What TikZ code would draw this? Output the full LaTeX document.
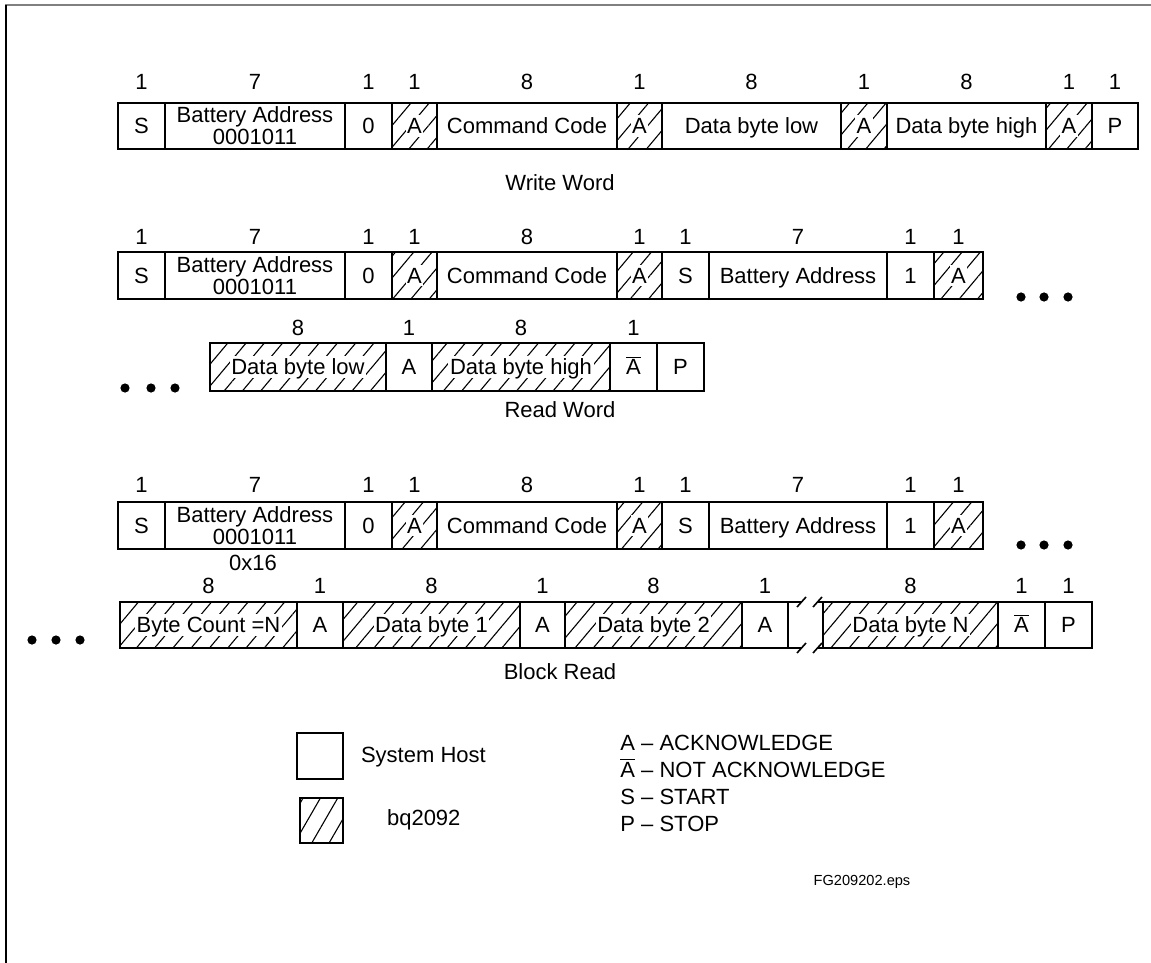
\documentclass[tikz,border=0pt]{standalone}
\usepackage{fontspec}
\setmainfont{Liberation Sans}
\usetikzlibrary{patterns.meta}
\tikzset{
  frame/.style={line width=1.1pt},
  hatch/.style={pattern={Lines[angle=50,distance=7pt,line width=0.55pt]}},
  lbl/.style={fill=white,inner sep=0.8pt,text height=8.6pt,text depth=0.7pt},
  addr/.style={fill=white,inner sep=0.8pt,align=center,font=\fontsize{11}{8.5}\selectfont},
  num/.style={inner sep=0pt},
  key/.style={anchor=base west,inner sep=0pt},
  dot/.style={circle,fill,inner sep=0pt,minimum size=4.6pt},
}
\newcommand{\nak}{$\overline{\mbox{A}}$}
\begin{document}
\begin{tikzpicture}[x=0.5pt,y=-0.5pt,font=\fontsize{11}{13}\selectfont]
\useasboundingbox (0,0) rectangle (1151,963);
\draw[gray,line width=0.9pt] (5,5) -- (1151,5);
\draw[line width=0.8pt] (6,5) -- (6,963);

% write word
\draw[frame] (118,103) rectangle node[lbl] (w1) {S} (165,149);
\draw[frame] (165,103) rectangle node[addr] (w2) {Battery Address\\0001011} (345,149);
\draw[frame] (345,103) rectangle node[lbl] (w3) {0} (392,149);
\draw[frame,hatch] (392,103) rectangle node[lbl] (w4) {A} (437,149);
\draw[frame] (437,103) rectangle node[lbl] (w5) {Command Code} (617,149);
\draw[frame,hatch] (617,103) rectangle node[lbl] (w6) {A} (662,149);
\draw[frame] (662,103) rectangle node[lbl] (w7) {Data byte low} (841,149);
\draw[frame,hatch] (841,103) rectangle node[lbl] (w8) {A} (887,149);
\draw[frame] (887,103) rectangle node[lbl] (w9) {Data byte high} (1046,149);
\draw[frame,hatch] (1046,103) rectangle node[lbl] (w10) {A} (1092,149);
\draw[frame] (1092,103) rectangle node[lbl] (w11) {P} (1138,149);
\foreach \x/\n [count=\i] in {141.5/1,255/7,368.5/1,414.5/1,527/8,639.5/1,751.5/8,864/1,966.5/8,1069/1,1115/1}
  \node[num] (wn\i) at (\x,82) {\n};
\node (wcap) at (560,183) {Write Word};

% read word
\draw[frame] (118,252) rectangle node[lbl] (r1) {S} (165,299);
\draw[frame] (165,252) rectangle node[addr] (r2) {Battery Address\\0001011} (345,299);
\draw[frame] (345,252) rectangle node[lbl] (r3) {0} (392,299);
\draw[frame,hatch] (392,252) rectangle node[lbl] (r4) {A} (437,299);
\draw[frame] (437,252) rectangle node[lbl] (r5) {Command Code} (617,299);
\draw[frame,hatch] (617,252) rectangle node[lbl] (r6) {A} (662,299);
\draw[frame] (662,252) rectangle node[lbl] (r7) {S} (709,299);
\draw[frame] (709,252) rectangle node[lbl] (r8) {Battery Address} (887,299);
\draw[frame] (887,252) rectangle node[lbl] (r9) {1} (934,299);
\draw[frame,hatch] (934,252) rectangle node[lbl] (r10) {A} (983,299);
\foreach \x/\n [count=\i] in {141.5/1,255/7,368.5/1,414.5/1,527/8,639.5/1,685.5/1,798/7,910.5/1,958.5/1}
  \node[num] (rn\i) at (\x,237) {\n};
\node[dot] (rd1) at (1021,297) {};
\node[dot] (rd2) at (1044,297) {};
\node[dot] (rd3) at (1068,297) {};

\node[dot] (rd4) at (125,388) {};
\node[dot] (rd5) at (151,388) {};
\node[dot] (rd6) at (175,388) {};
\draw[frame,hatch] (210,343) rectangle node[lbl] (r11) {Data byte low} (386,391);
\draw[frame] (386,343) rectangle node[lbl] (r12) {A} (432,391);
\draw[frame,hatch] (432,343) rectangle node[lbl] (r13) {Data byte high} (610,391);
\draw[frame] (610,343) rectangle node[lbl] (r14) {\nak} (657,391);
\draw[frame] (657,343) rectangle node[lbl] (r15) {P} (704,391);
\foreach \x/\n [count=\i] in {298/8,409/1,521/8,633.5/1}
  \node[num] (rm\i) at (\x,328) {\n};
\node (rcap) at (560,410) {Read Word};

% block read
\draw[frame] (118,502) rectangle node[lbl] (b1) {S} (165,549);
\draw[frame] (165,502) rectangle node[addr] (b2) {Battery Address\\0001011} (345,549);
\draw[frame] (345,502) rectangle node[lbl] (b3) {0} (392,549);
\draw[frame,hatch] (392,502) rectangle node[lbl] (b4) {A} (437,549);
\draw[frame] (437,502) rectangle node[lbl] (b5) {Command Code} (617,549);
\draw[frame,hatch] (617,502) rectangle node[lbl] (b6) {A} (662,549);
\draw[frame] (662,502) rectangle node[lbl] (b7) {S} (709,549);
\draw[frame] (709,502) rectangle node[lbl] (b8) {Battery Address} (887,549);
\draw[frame] (887,502) rectangle node[lbl] (b9) {1} (934,549);
\draw[frame,hatch] (934,502) rectangle node[lbl] (b10) {A} (983,549);
\foreach \x/\n [count=\i] in {141.5/1,255/7,368.5/1,414.5/1,527/8,639.5/1,685.5/1,798/7,910.5/1,958.5/1}
  \node[num] (bn\i) at (\x,485) {\n};
\node (bhex) at (253,563) {0x16};
\node[dot] (bd1) at (1021,545) {};
\node[dot] (bd2) at (1044,545) {};
\node[dot] (bd3) at (1068,545) {};

\node[dot] (bd4) at (32,640) {};
\node[dot] (bd5) at (56,640) {};
\node[dot] (bd6) at (80,640) {};
\draw[frame,hatch] (120,602) rectangle node[lbl] (b11) {Byte Count =N} (297,648);
\draw[frame] (297,602) rectangle node[lbl] (b12) {A} (343,648);
\draw[frame,hatch] (343,602) rectangle node[lbl] (b13) {Data byte 1} (520,648);
\draw[frame] (520,602) rectangle node[lbl] (b14) {A} (565,648);
\draw[frame,hatch] (565,602) rectangle node[lbl] (b15) {Data byte 2} (742,648);
\draw[frame] (742,602) rectangle node[lbl] (b16) {A} (788,648);
\draw[frame] (788,602) -- (801,602) (788,648) -- (801,648)
  (817,602) -- (823,602) (817,648) -- (823,648);
\draw[line width=0.8pt] (797,607) -- (806,597) (813,607) -- (822,597)
  (797,653) -- (806,643) (813,653) -- (822,643);
\draw[frame,hatch] (823,602) rectangle node[lbl] (b17) {Data byte N} (998,648);
\draw[frame] (998,602) rectangle node[lbl] (b18) {\nak} (1045,648);
\draw[frame] (1045,602) rectangle node[lbl] (b19) {P} (1092,648);
\foreach \x/\n [count=\i] in {208.5/8,320/1,431.5/8,542.5/1,653.5/8,765/1,910.5/8,1021.5/1,1068.5/1}
  \node[num] (bm\i) at (\x,586) {\n};
\node (bcap) at (560,672) {Block Read};

% legend
\draw[line width=0.6pt] (297,733) rectangle (343,779);
\node[anchor=west] (host) at (354,757) {System Host};
\draw[line width=0.6pt,pattern={Lines[angle=60,distance=7.5pt,line width=0.55pt]}] (300,798) rectangle (343,843);
\node[anchor=west] (dev) at (380,820) {bq2092};
\node[key] (k1) at (620,750) {A -- ACKNOWLEDGE};
\node[key] (k2) at (620,777) {\nak{} -- NOT ACKNOWLEDGE};
\node[key] (k3) at (620,804) {S -- START};
\node[key] (k4) at (620,831) {P -- STOP};
\node[font=\fontsize{7.3}{9}\selectfont] (fig) at (862,882) {FG209202.eps};
\end{tikzpicture}
\end{document}
